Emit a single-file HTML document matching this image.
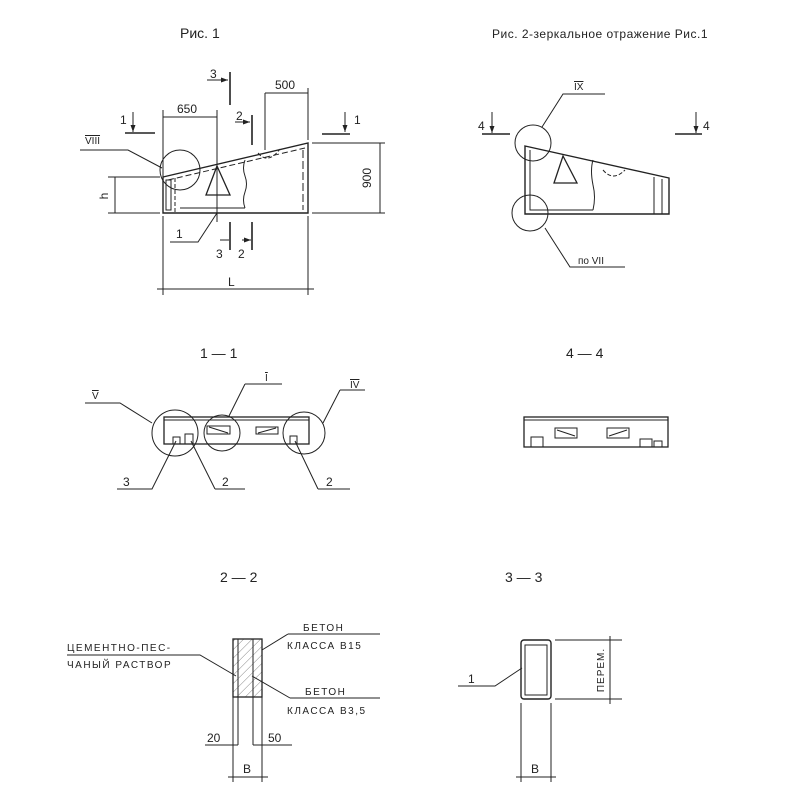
<!DOCTYPE html>
<html><head><meta charset="utf-8"><style>
html,body{margin:0;padding:0;background:#fff;}
svg{display:block;}
text{font-family:"Liberation Sans","DejaVu Sans",sans-serif;fill:#222;}
</style></head><body>
<svg width="800" height="800" viewBox="0 0 800 800" xmlns="http://www.w3.org/2000/svg">
<defs>
<pattern id="h" width="6" height="6" patternUnits="userSpaceOnUse" patternTransform="rotate(45)"><line x1="0" y1="0" x2="0" y2="6" stroke="#555" stroke-width="0.7"/></pattern>
<marker id="a" markerWidth="8" markerHeight="8" refX="7" refY="4" orient="auto" markerUnits="userSpaceOnUse"><path d="M0,1.5 L7,4 L0,6.5 Z" fill="#222"/></marker>
</defs>
<g stroke="#222" stroke-width="1" fill="none">
<!-- Fig 1 -->
<polygon points="163,177 308,143 308,213 163,213" stroke-width="1.4"/>
<line x1="168" y1="180" x2="305" y2="148" stroke-dasharray="6,3"/>
<line x1="303" y1="150" x2="303" y2="210" stroke-dasharray="8,3"/>
<rect x="166" y="180" width="5" height="30"/>
<line x1="175" y1="178" x2="175" y2="212" stroke-dasharray="4,2"/>
<path d="M180,208 L245,208 M245,160 q-3,8 0,16 q3,8 0,16 q-3,8 0,16"/>
<polygon points="217,166 230,195 206,195" stroke-width="1.3"/>
<path d="M258,153 q10,12 22,-4" stroke-dasharray="4,2"/>
<circle cx="180" cy="170" r="20"/>
<path d="M80,150 L128,150 L162,168"/>
<!-- dims -->
<path d="M163,177 L163,110 M217,110 L217,222 M163,117 L217,117 M265,93 L265,150 M308,88 L308,140 M265,93 L308,93"/>
<path d="M312,143 L385,143 M312,213 L385,213 M380,143 L380,213"/>
<path d="M108,177 L160,177 M108,213 L160,213 M115,177 L115,213"/>
<path d="M163,216 L163,295 M308,216 L308,295 M157,289 L314,289"/>
<!-- section marks -->
<path d="M125,133 L155,133" stroke-width="1.6"/><path d="M133,112 L133,132" marker-end="url(#a)"/>
<path d="M322,134 L350,134" stroke-width="1.6"/><path d="M345,112 L345,132" marker-end="url(#a)"/>
<path d="M207,80 L228,80" marker-end="url(#a)"/><path d="M230,72 L230,105" stroke-width="1.6"/>
<path d="M235,122 L250,122" marker-end="url(#a)"/><path d="M252,115 L252,145" stroke-width="1.6"/>
<path d="M230,222 L230,250 M252,222 L252,250" stroke-width="1.6"/>
<path d="M220,240 L229,240 M242,240 L251,240" marker-end="url(#a)"/>
<path d="M170,242 L198,242 L217,213"/>
<!-- Fig 2 -->
<polygon points="525,146 669,178 669,214 525,214" stroke-width="1.4"/>
<path d="M530,150 L530,210 L593,210 M593,160 q-3,10 0,25 q3,12 0,25"/>
<polygon points="563,156 577,183 554,183" stroke-width="1.3"/>
<path d="M603,170 q10,12 22,0" stroke-dasharray="4,2"/>
<path d="M654,177 L654,214 M662,179 L662,214"/>
<circle cx="533" cy="143" r="18"/>
<circle cx="530" cy="213" r="18"/>
<path d="M542,127 L563,94 L605,94 M545,228 L570,267 L625,267"/>
<path d="M482,134 L510,134" stroke-width="1.6"/><path d="M492,112 L492,133" marker-end="url(#a)"/>
<path d="M675,134 L702,134" stroke-width="1.6"/><path d="M696,112 L696,133" marker-end="url(#a)"/>
<!-- 1-1 -->
<rect x="164" y="417" width="145" height="27" stroke-width="1.3"/>
<line x1="164" y1="420" x2="309" y2="420"/>
<rect x="173" y="437" width="7" height="7"/>
<rect x="185" y="434" width="8" height="10"/>
<rect x="290" y="436" width="7" height="8"/>
<rect x="207" y="426" width="23" height="8"/><line x1="209" y1="427" x2="228" y2="433"/>
<rect x="256" y="427" width="22" height="7"/><line x1="258" y1="433" x2="276" y2="428"/>
<circle cx="175" cy="433" r="23"/><circle cx="222" cy="433" r="18"/><circle cx="304" cy="433" r="21"/>
<path d="M85,403 L120,403 L152,423 M245,384 L282,384 M245,384 L229,416 M340,390 L365,390 M340,390 L323,423"/>
<path d="M117,489 L152,489 L176,441 M215,489 L245,489 M215,489 L191,441 M318,489 L350,489 M318,489 L295,441"/>
<!-- 4-4 -->
<rect x="524" y="417" width="144" height="30" stroke-width="1.3"/>
<line x1="524" y1="420" x2="668" y2="420"/>
<rect x="555" y="428" width="22" height="10"/><line x1="557" y1="430" x2="575" y2="436"/>
<rect x="607" y="428" width="22" height="10"/><line x1="609" y1="436" x2="627" y2="430"/>
<rect x="531" y="437" width="12" height="10"/><rect x="640" y="439" width="12" height="8"/><rect x="654" y="441" width="8" height="6"/>
<!-- 2-2 -->
<rect x="233" y="639" width="29" height="58" fill="url(#h)" stroke-width="1.3"/>
<path d="M238,639 L238,697 M253,639 L253,697"/>
<path d="M233,697 L233,782 M262,697 L262,782 M238,697 L238,745 M253,697 L253,745"/>
<path d="M205,745 L238,745 M253,745 L292,745 M228,777 L268,777"/>
<path d="M67,655 L200,655 L236,676 M288,634 L380,634 M288,634 L262,650 M290,698 L380,698 M290,698 L252,676"/>
<!-- 3-3 -->
<rect x="521" y="640" width="30" height="59" rx="3" stroke-width="1.4"/>
<rect x="525" y="645" width="22" height="50"/>
<path d="M555,640 L622,640 M555,699 L622,699 M610,636 L610,704"/>
<path d="M521,703 L521,782 M551,703 L551,782 M516,777 L556,777"/>
<path d="M458,686 L495,686 L522,668"/>
</g>
<g font-size="12">
<text x="180" y="38" font-size="14">Рис. 1</text>
<text x="492" y="38" font-size="12" letter-spacing="0.5">Рис. 2-зеркальное отражение Рис.1</text>
<text x="177" y="113">650</text>
<text x="275" y="89">500</text>
<text x="371" y="178" transform="rotate(-90 371 178)" text-anchor="middle">900</text>
<text x="108" y="196" transform="rotate(-90 108 196)" text-anchor="middle">h</text>
<text x="228" y="286">L</text>
<text x="120" y="124">1</text><text x="354" y="124">1</text>
<text x="210" y="78">3</text><text x="236" y="120">2</text>
<text x="216" y="258">3</text><text x="238" y="258">2</text>
<text x="176" y="238">1</text>
<text x="85" y="144" font-size="10" text-decoration="overline">VIII</text>
<text x="574" y="90" font-size="10" text-decoration="overline">IX</text>
<text x="578" y="264" font-size="10">по VII</text>
<text x="478" y="130">4</text><text x="703" y="130">4</text>
<text x="200" y="358" font-size="14">1 — 1</text>
<text x="566" y="358" font-size="14">4 — 4</text>
<text x="92" y="399" font-size="10" text-decoration="overline">V</text>
<text x="265" y="381" font-size="10" text-decoration="overline">I</text>
<text x="350" y="388" font-size="10" text-decoration="overline">IV</text>
<text x="123" y="486">3</text><text x="222" y="486">2</text><text x="326" y="486">2</text>
<text x="220" y="582" font-size="14">2 — 2</text>
<text x="505" y="582" font-size="14">3 — 3</text>
<g font-size="10" letter-spacing="1.5">
<text x="67" y="651">ЦЕМЕНТНО-ПЕС-</text>
<text x="67" y="668">ЧАНЫЙ РАСТВОР</text>
<text x="303" y="631">БЕТОН</text>
<text x="287" y="649">КЛАССА В15</text>
<text x="305" y="695">БЕТОН</text>
<text x="287" y="714">КЛАССА В3,5</text>
<text x="604" y="670" transform="rotate(-90 604 670)" text-anchor="middle" letter-spacing="1">ПЕРЕМ.</text>
</g>
<text x="207" y="742">20</text><text x="268" y="742">50</text>
<text x="243" y="773">В</text><text x="531" y="773">В</text>
<text x="468" y="683">1</text>
</g>
</svg>
</body></html>
